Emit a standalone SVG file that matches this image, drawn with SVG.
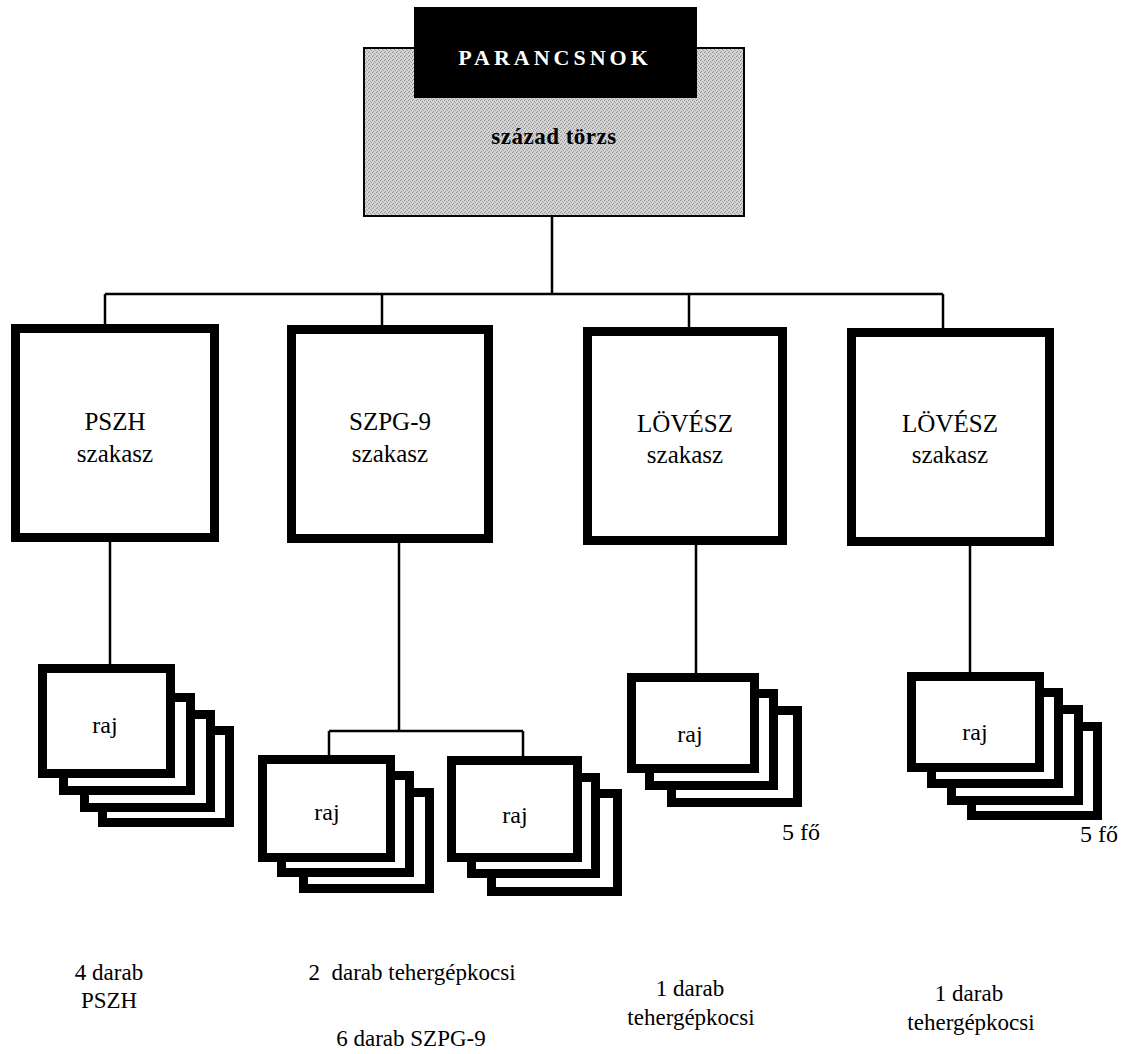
<svg xmlns="http://www.w3.org/2000/svg" width="1126" height="1054" viewBox="0 0 1126 1054" font-family="'Liberation Serif','Times New Roman','DejaVu Serif',serif">
<defs>
<pattern id="stipple" width="4" height="4" patternUnits="userSpaceOnUse">
<rect width="4" height="4" fill="#d4d4d4"/>
<rect x="0" y="0" width="1" height="1" fill="#8c8c8c"/>
<rect x="2" y="1" width="1" height="1" fill="#9c9c9c"/>
<rect x="1" y="3" width="1" height="1" fill="#949494"/>
<rect x="3" y="2" width="1" height="1" fill="#a4a4a4"/>
</pattern>
</defs>
<style>
text{font-family:"Liberation Serif","Times New Roman","DejaVu Serif",serif;fill:#000;text-anchor:middle}
.box{fill:#fff;stroke:#000;stroke-width:9}
.card{fill:#fff;stroke:#000;stroke-width:9}
.ln{stroke:#000;stroke-width:2.5;fill:none}
.lbl{font-size:25px}
.raj{font-size:24px}
.bt{font-size:23px}
</style>
<rect width="1126" height="1054" fill="#fff"/>
<g id="connectors">
<path class="ln" d="M552,217V294M105,294H943M105,294V324M382,294V325M689,294V327M943,294V328"/>
<path class="ln" d="M110,542V664M399,543V731M329,731H523M329,731V755M523,731V756M696,545V673M970,546V672"/>
</g>
<g id="torzs">
<rect x="364" y="48" width="380" height="168" fill="url(#stipple)" stroke="#000" stroke-width="2"/>
<rect x="414" y="7" width="283" height="91" fill="#000"/>
<text x="555" y="65" font-size="22" font-weight="bold" letter-spacing="4" style="fill:#fff">PARANCSNOK</text>
<text x="554" y="144" font-size="23" font-weight="bold" letter-spacing="0.5">század törzs</text>
</g>
<g id="pszh">
<rect class="box" x="15.5" y="328.5" width="199" height="209"/>
<text class="lbl" x="115" y="430">PSZH</text>
<text class="lbl" x="115" y="462">szakasz</text>
</g>
<g id="szpg">
<rect class="box" x="291.5" y="329.5" width="197" height="209"/>
<text class="lbl" x="390" y="430">SZPG-9</text>
<text class="lbl" x="390" y="462">szakasz</text>
</g>
<g id="lovesz1">
<rect class="box" x="587.5" y="331.5" width="195" height="209"/>
<text class="lbl" x="685" y="432">LÖVÉSZ</text>
<text class="lbl" x="685" y="463">szakasz</text>
</g>
<g id="lovesz2">
<rect class="box" x="851.5" y="332.5" width="198" height="209"/>
<text class="lbl" x="950" y="432">LÖVÉSZ</text>
<text class="lbl" x="950" y="463">szakasz</text>
</g>
<g id="raj-pszh">
<rect class="card" x="102.5" y="730.5" width="127" height="92"/>
<rect class="card" x="84.5" y="714.5" width="126" height="93"/>
<rect class="card" x="63.5" y="697.5" width="127" height="93"/>
<rect class="card" x="42.5" y="668.5" width="128" height="105"/>
<text class="raj" x="105" y="733">raj</text>
</g>
<g id="raj-szpg-a">
<rect class="card" x="303.5" y="792.5" width="126" height="96"/>
<rect class="card" x="281.5" y="775.5" width="128" height="97"/>
<rect class="card" x="262.5" y="759.5" width="128" height="98"/>
<text class="raj" x="327" y="820">raj</text>
</g>
<g id="raj-szpg-b">
<rect class="card" x="491.5" y="793.5" width="126" height="98"/>
<rect class="card" x="471.5" y="777.5" width="124" height="96"/>
<rect class="card" x="451.5" y="760.5" width="126" height="97"/>
<text class="raj" x="515" y="823">raj</text>
</g>
<g id="raj-lovesz1">
<rect class="card" x="671.5" y="710.5" width="126" height="92"/>
<rect class="card" x="649.5" y="693.5" width="124" height="92"/>
<rect class="card" x="631.5" y="677.5" width="123" height="91"/>
<text class="raj" x="690" y="742">raj</text>
<text class="raj" x="782" y="840" style="text-anchor:start">5 fő</text>
</g>
<g id="raj-lovesz2">
<rect class="card" x="971.5" y="726.5" width="126" height="89"/>
<rect class="card" x="951.5" y="709.5" width="127" height="91"/>
<rect class="card" x="931.5" y="692.5" width="127" height="91"/>
<rect class="card" x="911.5" y="676.5" width="128" height="91"/>
<text class="raj" x="975" y="740">raj</text>
<text class="raj" x="1080" y="842" style="text-anchor:start">5 fő</text>
</g>
<g id="notes">
<text class="bt" x="109" y="980">4 darab</text>
<text class="bt" x="109" y="1008">PSZH</text>
<text class="bt" x="412" y="980" style="white-space:pre">2  darab tehergépkocsi</text>
<text class="bt" x="411" y="1046">6 darab SZPG-9</text>
<text class="bt" x="690" y="996">1 darab</text>
<text class="bt" x="691" y="1025">tehergépkocsi</text>
<text class="bt" x="969" y="1001">1 darab</text>
<text class="bt" x="971" y="1030">tehergépkocsi</text>
</g>
</svg>
